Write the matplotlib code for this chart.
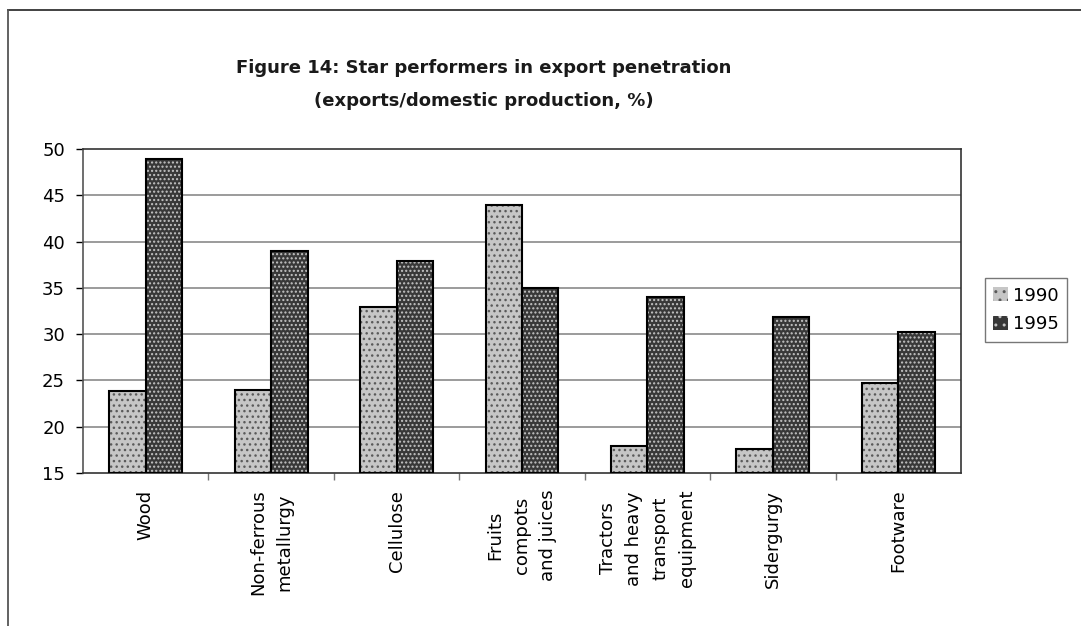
import numpy as np
import matplotlib
matplotlib.use('Agg')
import matplotlib.pyplot as plt
from matplotlib.patches import Patch
from matplotlib.lines import Line2D

categories = ["Wood", "Non-ferrous\nmetallurgy", "Cellulose", "Fruits\ncompots\nand juices",
              "Tractors\nand heavy\ntransport\nequipment", "Sidergurgy", "Footware"]
vals_1990 = [23.9, 24.0, 32.9, 44.0, 17.9, 17.6, 24.7]
vals_1995 = [48.9, 39.0, 37.9, 35.0, 34.0, 31.9, 30.2]
years = ["1990", "1995"]
yticks = [15, 20, 25, 30, 35, 40, 45, 50]

plt.rcParams['font.family'] = ['DejaVu Sans']
plt.rcParams['hatch.linewidth'] = 1.0

W, H = 1081, 626
fig = plt.figure(figsize=(W / 100, H / 100), dpi=100)
ax = fig.add_axes([83 / W, 1 - 473 / H, (961 - 83) / W, (473 - 149) / H])

x = np.arange(len(categories))
bw = 0.29

# style per series: (fill colour, dot colour, hatch)
styles = [("#c6c6c6", "#5a5a5a", "..."), ("#383838", "#c4c4c4", "....")]

for i, vals in enumerate([vals_1990, vals_1995]):
    pos = x + (i - 0.5) * bw
    heights = np.array(vals) - 15
    fc, dc, ht = styles[i]
    ax.bar(pos, heights, bw, bottom=15, color=fc, edgecolor=dc, hatch=ht,
           linewidth=0, zorder=3)
    ax.bar(pos, heights, bw, bottom=15, fill=False, edgecolor='black',
           linewidth=1.5, zorder=4)

ax.set_ylim(15, 50)
ax.set_xlim(-0.5, len(categories) - 0.5)
ax.set_yticks(yticks)
ax.tick_params(axis='y', direction='out', length=5, width=1, pad=8, labelsize=13)

ax.set_xticks(x)
ax.set_xticklabels(categories, rotation=90, ha='center', va='top',
                   multialignment='center', fontsize=13, linespacing=1.6)
ax.tick_params(axis='x', length=0, pad=12)
ax.set_xticks(np.arange(0.5, len(categories) - 0.5, 1), minor=True)
ax.tick_params(axis='x', which='minor', direction='out', length=5, width=1, color='#777777')

for v in yticks[1:-1]:
    ax.axhline(v, color='#8a8a8a', linewidth=1.2, zorder=1)

for s in ax.spines.values():
    s.set_linewidth(1.2)
    s.set_color('#333333')
ax.spines['left'].set_color('#555555')

fig.text(484 / W, 1 - 68 / H, "Figure 14: Star performers in export penetration",
         ha='center', va='center', fontsize=13, fontweight='bold', color='#1a1a1a')
fig.text(484 / W, 1 - 101 / H, "(exports/domestic production, %)",
         ha='center', va='center', fontsize=13, fontweight='bold', color='#1a1a1a')

handles = [Patch(facecolor=styles[i][0], edgecolor=styles[i][1], hatch='..', linewidth=0)
           for i in range(2)]
leg = fig.legend(handles, years, loc='center left', bbox_to_anchor=(985 / W, 1 - 310 / H),
                 fontsize=13, frameon=True, fancybox=False, borderaxespad=0,
                 handlelength=0.8, handleheight=0.8, handletextpad=0.3,
                 borderpad=0.45, labelspacing=0.6)
leg.get_frame().set_edgecolor('#555555')
leg.get_frame().set_linewidth(1.0)

# outer frame of the figure (top and left edges visible)
fig.add_artist(Line2D([8 / W, 1], [1 - 10 / H, 1 - 10 / H], color='#333333', linewidth=1.3,
                      transform=fig.transFigure))
fig.add_artist(Line2D([8 / W, 8 / W], [0, 1 - 10 / H], color='#555555', linewidth=1.3,
                      transform=fig.transFigure))

fig.savefig('out.png', dpi=100)
